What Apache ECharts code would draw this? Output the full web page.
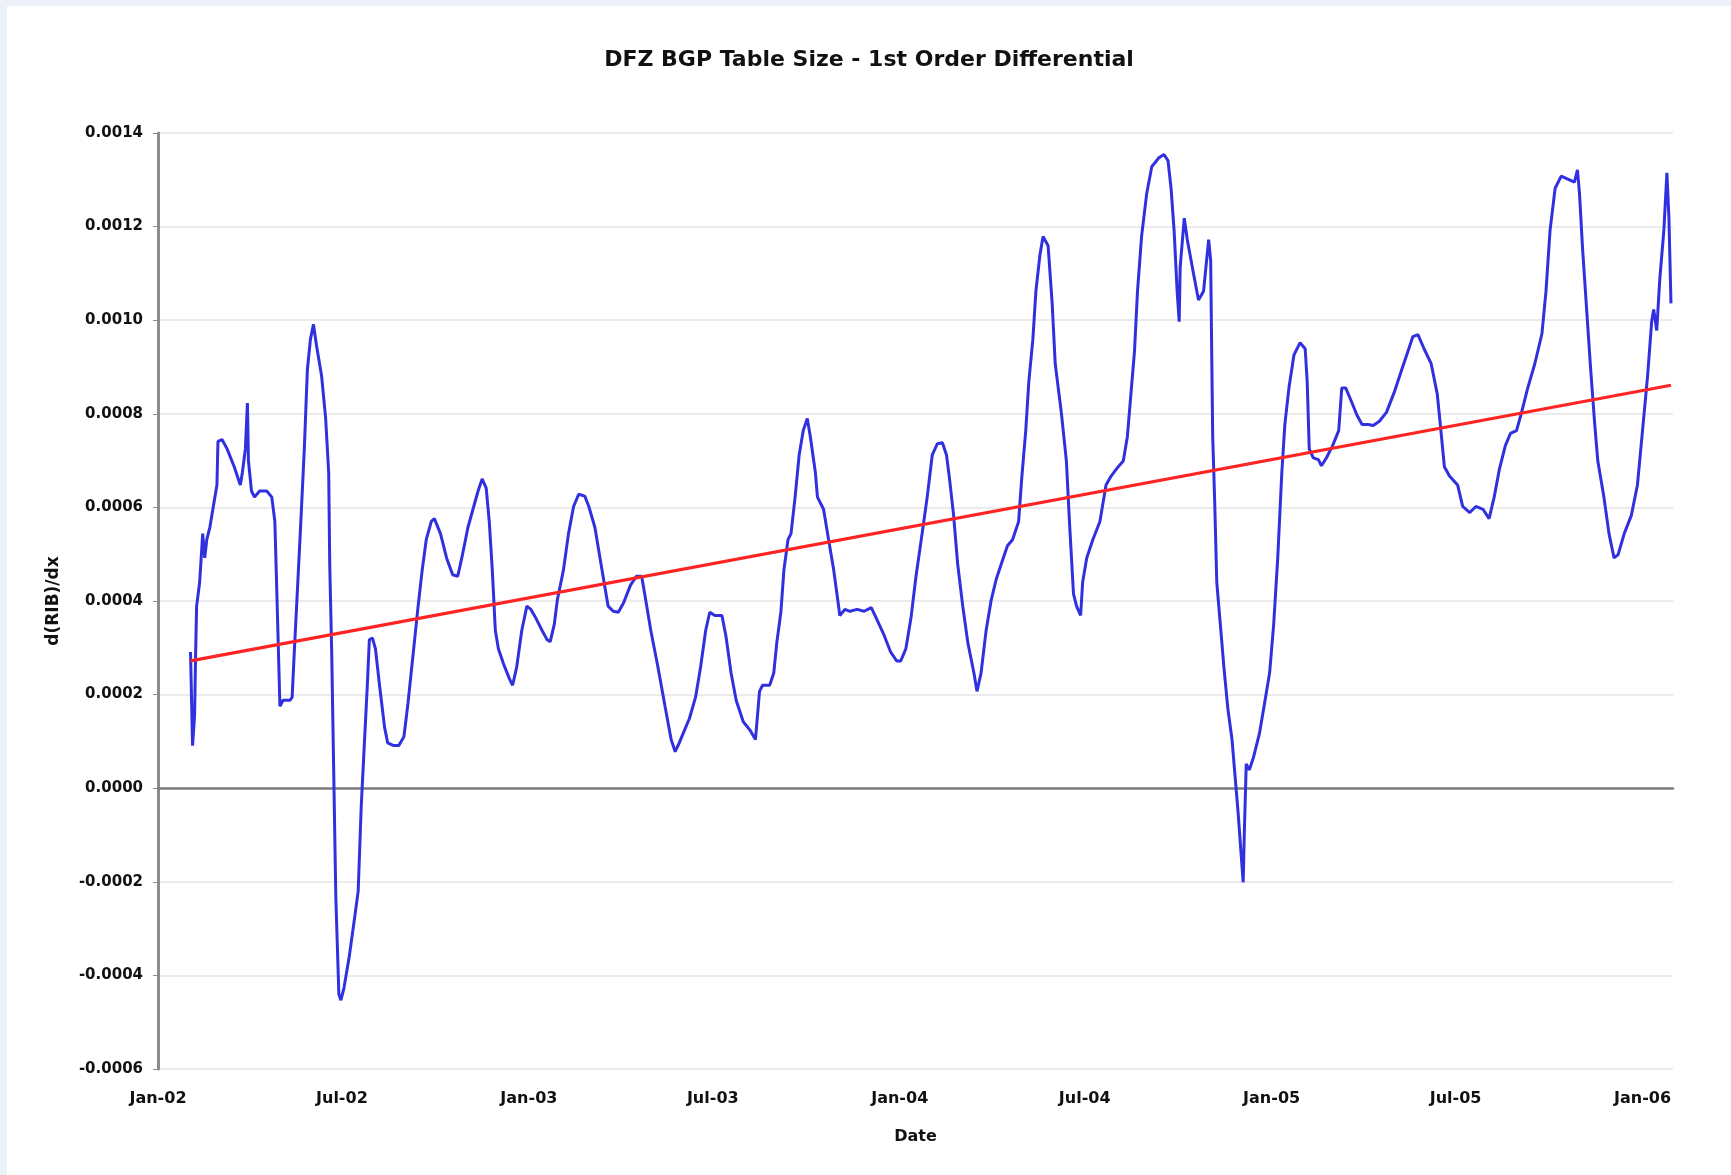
<!DOCTYPE html>
<html>
<head>
<meta charset="utf-8">
<title>DFZ BGP Table Size - 1st Order Differential</title>
<script type="text/javascript" src="https://cdn.jsdelivr.net/npm/echarts@6/dist/echarts.min.js"></script>
<style>
	body { margin: 0; background: #edf2f8; }
	#main { position: absolute; left: 7px; top: 6px; width: 1724px; height: 1169px; background: #ffffff; }
</style>
</head>
<body>

	<div id="main"></div>

	<script type="text/javascript">
		// d(RIB)/dx
		var dates = [
			'2002-02-02', '2002-02-04', '2002-02-06', '2002-02-07', '2002-02-08', '2002-02-11', '2002-02-14', '2002-02-16',
			'2002-02-18', '2002-02-21', '2002-02-24', '2002-02-28', '2002-03-01', '2002-03-05', '2002-03-10', '2002-03-17',
			'2002-03-23', '2002-03-25', '2002-03-28', '2002-03-30', '2002-03-31', '2002-04-03', '2002-04-06', '2002-04-11',
			'2002-04-18', '2002-04-23', '2002-04-26', '2002-04-28', '2002-05-01', '2002-05-04', '2002-05-11', '2002-05-13',
			'2002-05-15', '2002-05-18', '2002-05-21', '2002-05-25', '2002-05-28', '2002-05-31', '2002-06-03', '2002-06-06',
			'2002-06-11', '2002-06-15', '2002-06-18', '2002-06-19', '2002-06-21', '2002-06-23', '2002-06-25', '2002-06-28',
			'2002-06-30', '2002-07-03', '2002-07-08', '2002-07-13', '2002-07-17', '2002-07-20', '2002-07-23', '2002-07-26',
			'2002-07-28', '2002-07-31', '2002-08-03', '2002-08-07', '2002-08-12', '2002-08-15', '2002-08-21', '2002-08-26',
			'2002-08-31', '2002-09-04', '2002-09-09', '2002-09-14', '2002-09-18', '2002-09-22', '2002-09-27', '2002-09-30',
			'2002-10-06', '2002-10-12', '2002-10-18', '2002-10-23', '2002-10-27', '2002-11-02', '2002-11-07', '2002-11-12',
			'2002-11-16', '2002-11-20', '2002-11-23', '2002-11-26', '2002-11-29', '2002-12-02', '2002-12-07', '2002-12-13',
			'2002-12-16', '2002-12-20', '2002-12-25', '2002-12-30',
			'2003-01-03', '2003-01-08', '2003-01-14', '2003-01-19', '2003-01-22', '2003-01-26', '2003-01-29', '2003-02-04',
			'2003-02-09', '2003-02-14', '2003-02-19', '2003-02-25', '2003-03-01', '2003-03-07', '2003-03-12', '2003-03-16',
			'2003-03-20', '2003-03-25', '2003-03-30', '2003-04-04', '2003-04-11', '2003-04-17', '2003-04-22', '2003-04-25',
			'2003-05-01', '2003-05-08', '2003-05-15', '2003-05-21', '2003-05-25', '2003-05-29', '2003-06-03', '2003-06-08',
			'2003-06-14', '2003-06-19', '2003-06-24', '2003-06-28', '2003-07-03', '2003-07-10', '2003-07-14', '2003-07-19',
			'2003-07-24', '2003-07-31', '2003-08-07', '2003-08-12', '2003-08-16', '2003-08-19', '2003-08-26', '2003-08-30',
			'2003-09-02', '2003-09-06', '2003-09-09', '2003-09-13', '2003-09-16', '2003-09-20', '2003-09-24', '2003-09-28',
			'2003-10-02', '2003-10-05', '2003-10-10', '2003-10-12', '2003-10-18', '2003-10-23', '2003-10-28', '2003-11-01',
			'2003-11-03', '2003-11-08', '2003-11-13', '2003-11-20', '2003-11-27', '2003-12-04', '2003-12-09', '2003-12-16',
			'2003-12-23', '2003-12-29',
			'2004-01-02', '2004-01-07', '2004-01-12', '2004-01-17', '2004-01-23', '2004-01-28', '2004-02-02', '2004-02-07',
			'2004-02-12', '2004-02-16', '2004-02-19', '2004-02-23', '2004-02-27', '2004-03-03', '2004-03-08', '2004-03-14',
			'2004-03-17', '2004-03-21', '2004-03-26', '2004-03-31', '2004-04-05', '2004-04-11', '2004-04-16', '2004-04-21',
			'2004-04-27', '2004-04-30', '2004-05-04', '2004-05-07', '2004-05-11', '2004-05-14', '2004-05-18', '2004-05-21',
			'2004-05-26', '2004-05-30', '2004-06-02', '2004-06-08', '2004-06-13', '2004-06-16', '2004-06-20', '2004-06-23',
			'2004-06-27', '2004-06-29', '2004-07-03', '2004-07-09', '2004-07-16', '2004-07-22', '2004-07-27', '2004-08-03',
			'2004-08-08', '2004-08-12', '2004-08-15', '2004-08-19', '2004-08-22', '2004-08-26', '2004-08-31', '2004-09-05',
			'2004-09-12', '2004-09-17', '2004-09-21', '2004-09-24', '2004-09-27', '2004-09-30', '2004-10-02', '2004-10-03',
			'2004-10-07', '2004-10-10', '2004-10-16', '2004-10-21', '2004-10-26', '2004-10-31', '2004-11-02', '2004-11-03',
			'2004-11-04', '2004-11-06', '2004-11-08', '2004-11-12', '2004-11-15', '2004-11-19', '2004-11-23', '2004-11-26',
			'2004-11-29', '2004-12-02', '2004-12-04', '2004-12-05', '2004-12-07', '2004-12-10', '2004-12-14', '2004-12-20',
			'2004-12-25', '2004-12-30',
			'2005-01-03', '2005-01-07', '2005-01-11', '2005-01-14', '2005-01-18', '2005-01-23', '2005-01-29', '2005-02-03',
			'2005-02-05', '2005-02-07', '2005-02-11', '2005-02-16', '2005-02-19', '2005-02-24', '2005-03-02', '2005-03-08',
			'2005-03-11', '2005-03-15', '2005-03-20', '2005-03-26', '2005-03-31', '2005-04-06', '2005-04-11', '2005-04-17',
			'2005-04-24', '2005-05-02', '2005-05-09', '2005-05-16', '2005-05-20', '2005-05-25', '2005-05-31', '2005-06-07',
			'2005-06-13', '2005-06-16', '2005-06-20', '2005-06-25', '2005-07-03', '2005-07-08', '2005-07-15', '2005-07-21',
			'2005-07-28', '2005-08-03', '2005-08-08', '2005-08-13', '2005-08-19', '2005-08-24', '2005-08-30', '2005-09-04',
			'2005-09-10', '2005-09-17', '2005-09-24', '2005-09-28', '2005-10-02', '2005-10-07', '2005-10-13', '2005-10-20',
			'2005-10-26', '2005-10-29', '2005-10-31', '2005-11-03', '2005-11-07', '2005-11-11', '2005-11-15', '2005-11-18',
			'2005-11-24', '2005-11-29', '2005-12-04', '2005-12-08', '2005-12-14', '2005-12-21', '2005-12-27',
			'2006-01-01', '2006-01-06', '2006-01-10', '2006-01-12', '2006-01-15', '2006-01-18', '2006-01-22', '2006-01-25',
			'2006-01-27', '2006-01-29'
		];

		var rib = [
			0.000291, 0.000091, 0.000155, 0.000285, 0.000389, 0.000440, 0.000544, 0.000492,
			0.000531, 0.000557, 0.000596, 0.000648, 0.000741, 0.000745, 0.000725, 0.000687,
			0.000648, 0.000674, 0.000725, 0.000823, 0.000700, 0.000635, 0.000622, 0.000635,
			0.000635, 0.000622, 0.000570, 0.000415, 0.000175, 0.000188, 0.000188, 0.000194,
			0.000285, 0.000415, 0.000544, 0.000725, 0.000894, 0.000959, 0.000991, 0.000946,
			0.000881, 0.000790, 0.000674, 0.000479, 0.000285, 0.000026, -0.000233, -0.000440,
			-0.000453, -0.000427, -0.000363, -0.000285, -0.000220, -0.000039, 0.000091, 0.000220,
			0.000317, 0.000321, 0.000298, 0.000220, 0.000130, 0.000097, 0.000091, 0.000091,
			0.000110, 0.000181, 0.000285, 0.000389, 0.000466, 0.000531, 0.000570, 0.000576,
			0.000544, 0.000492, 0.000456, 0.000453, 0.000492, 0.000557, 0.000596, 0.000635,
			0.000661, 0.000641, 0.000570, 0.000466, 0.000337, 0.000298, 0.000266, 0.000233,
			0.000220, 0.000259, 0.000337, 0.000389,
			0.000382, 0.000363, 0.000337, 0.000317, 0.000313, 0.000350, 0.000402, 0.000466,
			0.000544, 0.000602, 0.000628, 0.000624, 0.000602, 0.000557, 0.000492, 0.000440,
			0.000389, 0.000378, 0.000376, 0.000395, 0.000434, 0.000453, 0.000453, 0.000415,
			0.000337, 0.000259, 0.000175, 0.000104, 0.000078, 0.000097, 0.000123, 0.000149,
			0.000194, 0.000259, 0.000337, 0.000376, 0.000369, 0.000369, 0.000324, 0.000246,
			0.000188, 0.000142, 0.000123, 0.000104, 0.000207, 0.000220, 0.000220, 0.000246,
			0.000311, 0.000376, 0.000466, 0.000531, 0.000544, 0.000622, 0.000712, 0.000764,
			0.000790, 0.000751, 0.000674, 0.000622, 0.000596, 0.000531, 0.000466, 0.000402,
			0.000369, 0.000382, 0.000378, 0.000382, 0.000378, 0.000386, 0.000363, 0.000330,
			0.000291, 0.000272,
			0.000272, 0.000298, 0.000363, 0.000453, 0.000544, 0.000622, 0.000712, 0.000736,
			0.000738, 0.000712, 0.000661, 0.000583, 0.000479, 0.000389, 0.000311, 0.000246,
			0.000207, 0.000246, 0.000337, 0.000402, 0.000447, 0.000486, 0.000518, 0.000531,
			0.000570, 0.000661, 0.000764, 0.000868, 0.000959, 0.001062, 0.001140, 0.001179,
			0.001159, 0.001036, 0.000907, 0.000803, 0.000699, 0.000570, 0.000415, 0.000389,
			0.000369, 0.000440, 0.000492, 0.000531, 0.000570, 0.000648, 0.000667, 0.000687,
			0.000699, 0.000751, 0.000829, 0.000933, 0.001062, 0.001179, 0.001270, 0.001328,
			0.001347, 0.001354, 0.001341, 0.001282, 0.001192, 0.001062, 0.000997, 0.001114,
			0.001218, 0.001172, 0.001101, 0.001043, 0.001062, 0.001172, 0.001127, 0.000933,
			0.000751, 0.000609, 0.000440, 0.000337, 0.000259, 0.000168, 0.000104, 0.000026,
			-0.000052, -0.000142, -0.000201, -0.000104, 0.000052, 0.000039, 0.000065, 0.000117,
			0.000181, 0.000246,
			0.000350, 0.000492, 0.000674, 0.000777, 0.000855, 0.000926, 0.000952, 0.000939,
			0.000868, 0.000725, 0.000706, 0.000702, 0.000689, 0.000706, 0.000732, 0.000764,
			0.000855, 0.000855, 0.000829, 0.000797, 0.000777, 0.000777, 0.000775, 0.000784,
			0.000803, 0.000848, 0.000894, 0.000939, 0.000965, 0.000969, 0.000939, 0.000907,
			0.000842, 0.000777, 0.000687, 0.000667, 0.000648, 0.000602, 0.000589, 0.000602,
			0.000596, 0.000576, 0.000622, 0.000680, 0.000732, 0.000758, 0.000764, 0.000803,
			0.000855, 0.000907, 0.000971, 0.001062, 0.001192, 0.001282, 0.001308, 0.001301,
			0.001295, 0.001321, 0.001270, 0.001153, 0.001023, 0.000894, 0.000777, 0.000699,
			0.000622, 0.000544, 0.000492, 0.000499, 0.000544, 0.000583, 0.000648,
			0.000764, 0.000881, 0.000997, 0.001023, 0.000978, 0.001088, 0.001192, 0.001315,
			0.001218, 0.001036
		];

		// linear trend (red)
		var trendDates = [ '2002-02-02', '2006-01-29' ];
		var trendValues = [ 0.000272, 0.000861 ];

		// x axis labels
		var tickDates = [ '2002-01-01', '2002-07-01', '2003-01-01', '2003-07-01', '2004-01-01',
				'2004-07-01', '2005-01-01', '2005-07-01', '2006-01-01' ];
		var tickLabels = [ 'Jan-02', 'Jul-02', 'Jan-03', 'Jul-03', 'Jan-04', 'Jul-04', 'Jan-05', 'Jul-05', 'Jan-06' ];

		// 'YYYY-MM-DD' -> local timestamp
		function ts(s) {
			var p = s.split('-');
			return new Date(+p[0], +p[1] - 1, +p[2]).getTime();
		}

		function zip(xs, ys) {
			var out = [];
			for (var i = 0; i < xs.length; i++) {
				out.push([ ts(xs[i]), ys[i] ]);
			}
			return out;
		}

		var tickValues = tickDates.map(ts);
		var xMin = ts('2002-01-01');
		var xMax = ts('2006-01-31');
		var font = 'DejaVu Sans';

		var myChart = echarts.init(document.getElementById('main'));

		var option = {
			animation : false,
			backgroundColor : '#ffffff',
			title : {
				text : 'DFZ BGP Table Size - 1st Order Differential',
				left : 'center',
				top : 43,
				padding : 0,
				textStyle : { fontFamily : font, fontWeight : 'bold', fontSize : 22, color : '#111' }
			},
			grid : {
				left : 151,
				right : 58,
				top : 127,
				bottom : 106,
				outerBoundsMode : 'none'
			},
			xAxis : [ {
				// timestamps on a plain value axis, labels at the half-year marks
				type : 'value',
				min : xMin,
				max : xMax,
				name : 'Date',
				nameLocation : 'middle',
				nameGap : 60,
				nameTextStyle : { fontFamily : font, fontWeight : 'bold', fontSize : 16, color : '#111' },
				axisLine : { show : false, onZero : false },
				axisTick : { show : false },
				splitLine : { show : false },
				axisLabel : {
					customValues : tickValues,
					margin : 22,
					fontFamily : font,
					fontWeight : 'bold',
					fontSize : 16,
					color : '#111',
					formatter : function(v) {
						var i = tickValues.indexOf(v);
						return i >= 0 ? tickLabels[i] : '';
					}
				}
			}, {
				// only draws the dark line at y = 0
				type : 'value',
				min : xMin,
				max : xMax,
				axisLine : { show : true, onZero : true, lineStyle : { color : '#7d7d7d', width : 2.5 } },
				axisTick : { show : false },
				axisLabel : { show : false },
				splitLine : { show : false }
			} ],
			yAxis : {
				type : 'value',
				min : -0.0006,
				max : 0.0014,
				interval : 0.0002,
				name : 'd(RIB)/dx',
				nameLocation : 'middle',
				nameGap : 96,
				nameTextStyle : { fontFamily : font, fontWeight : 'bold', fontSize : 17, color : '#111' },
				axisLine : { show : true, lineStyle : { color : '#8c8c8c', width : 3 } },
				axisTick : { show : true, length : 5, lineStyle : { color : '#8c8c8c' } },
				splitLine : { show : true, lineStyle : { color : '#e4e4e4', width : 1.5 } },
				axisLabel : {
					margin : 15,
					fontFamily : font,
					fontWeight : 'bold',
					fontSize : 15,
					color : '#111',
					formatter : function(v) {
						if (Math.abs(v) < 1e-10) return '0.0000';
						return v.toFixed(4);
					}
				}
			},
			series : [ {
				name : 'd(RIB)/dx',
				type : 'line',
				data : zip(dates, rib),
				showSymbol : false,
				lineStyle : { color : '#3030e0', width : 3 },
				z : 3
			}, {
				name : 'trend',
				type : 'line',
				data : zip(trendDates, trendValues),
				showSymbol : false,
				lineStyle : { color : '#ff2424', width : 3.2 },
				z : 4
			} ]
		};

		myChart.setOption(option);
	</script>

</body>
</html>
